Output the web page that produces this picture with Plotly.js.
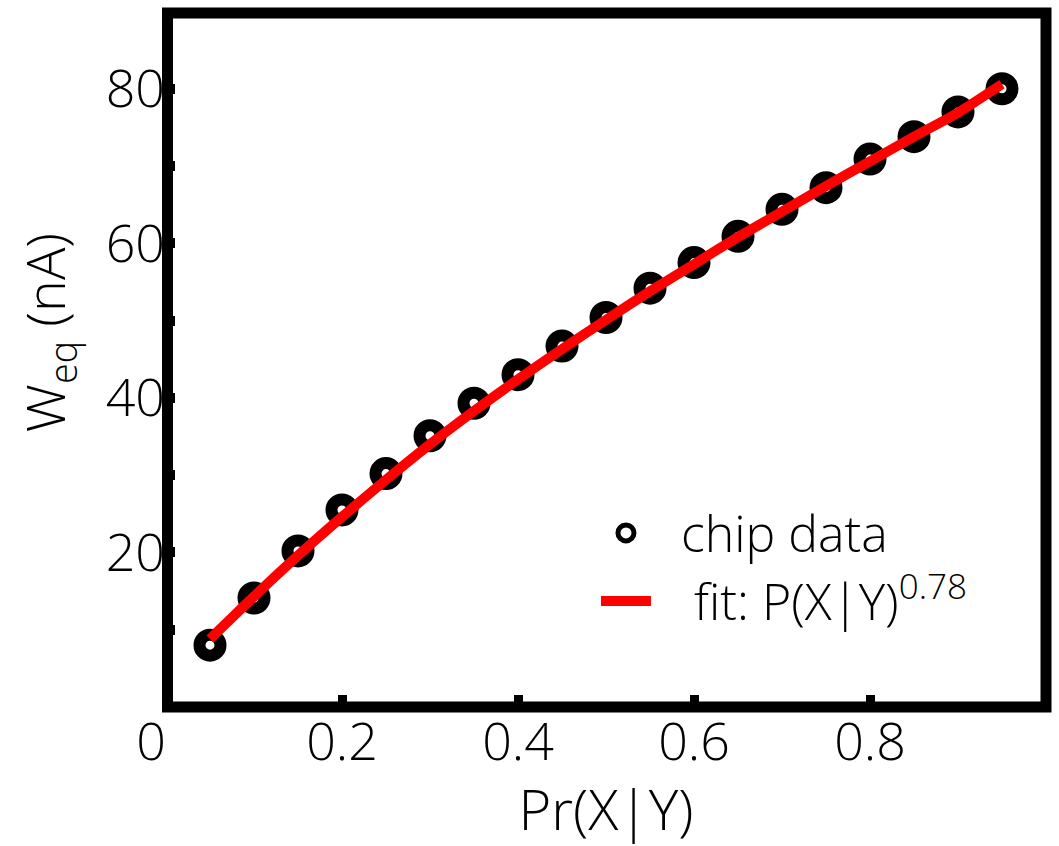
<!DOCTYPE html>
<html>
<head>
<meta charset="utf-8">
<script src="https://cdn.plot.ly/plotly-3.0.1.min.js"></script>
<style>html,body{margin:0;padding:0;background:#fff;}#chart{width:1059px;height:846px;}</style>
</head>
<body>
<div id="chart"></div>
<script>
// Pr(X|Y) sample positions
const prXY = [0.05, 0.10, 0.15, 0.20, 0.25, 0.30, 0.35, 0.40, 0.45, 0.50,
              0.55, 0.60, 0.65, 0.70, 0.75, 0.80, 0.85, 0.90, 0.95];
// chip data W_eq (nA)
const chipData = [8.0, 14.1, 20.2, 25.5, 30.2, 35.1, 39.3, 43.0, 46.7, 50.4,
                  54.2, 57.5, 60.9, 64.4, 67.2, 70.9, 73.8, 77.0, 80.0];
// fit curve
const fitData = [8.8, 14.3, 19.6, 24.6, 29.4, 34.0, 38.3, 42.4, 46.3, 50.1,
                 53.8, 57.3, 60.8, 64.1, 67.4, 70.6, 73.8, 76.9, 80.6];
const xTickVals = [0, 0.2, 0.4, 0.6, 0.8, 1];
const xTickText = ['0\u2007', '0.2', '0.4', '0.6', '0.8', '1'];
const yTickVals = [20, 40, 60, 80];
const yTickText = ['20', '40', '60', '80'];
const seriesNames = ['\u2002chip data', '\u2002 fit: P(X|Y)<sup>0.78</sup>'];
const xTitle = 'Pr(X|Y)';
const yTitle = 'W<sub>eq</sub> (nA)';

const FONT = 'Open Sans, Noto Sans, DejaVu Sans, sans-serif';

const traces = [
  {
    x: prXY, y: chipData, type: 'scatter', mode: 'markers', name: seriesNames[0],
    marker: {symbol: 'circle-open', size: 21, color: 'black', line: {width: 12, color: 'black'}}
  },
  {
    x: prXY, y: fitData, type: 'scatter', mode: 'lines', name: seriesNames[1],
    line: {color: '#ff0000', width: 10, shape: 'spline', smoothing: 0.6}
  }
];

const layout = {
  width: 1059, height: 846,
  margin: {l: 166, r: 13, t: 13, b: 139},
  paper_bgcolor: 'white', plot_bgcolor: 'white',
  font: {family: FONT, color: 'black', weight: 300},
  showlegend: true,
  legend: {
    x: 0.4886, y: 0.307, xanchor: 'left', yanchor: 'top',
    bgcolor: 'rgba(0,0,0,0)', borderwidth: 0,
    font: {family: FONT, size: 50, color: 'black', weight: 300},
    itemwidth: 50, tracegroupgap: 0
  },
  xaxis: {
    range: [0, 1], tickvals: xTickVals, ticktext: xTickText,
    ticks: 'inside', ticklen: 12, tickwidth: 9, tickcolor: 'black',
    showgrid: false, zeroline: false, showline: false,
    tickfont: {family: FONT, size: 52, color: 'black', weight: 300},
    title: {text: xTitle, font: {family: FONT, size: 56, color: 'black', weight: 300}, standoff: 8}
  },
  yaxis: {
    range: [0, 89.8], tickvals: yTickVals, ticktext: yTickText,
    ticks: 'inside', ticklen: 9, tickwidth: 10, tickcolor: 'black',
    minor: {ticks: 'inside', ticklen: 9, tickwidth: 10, tickcolor: 'black', dtick: 10, tick0: 0, showgrid: false},
    showgrid: false, zeroline: false, showline: false,
    tickfont: {family: FONT, size: 52, color: 'black', weight: 300}
  },
  annotations: [{
    text: yTitle, xref: 'paper', yref: 'paper', x: -0.135, y: 0.539,
    xanchor: 'center', yanchor: 'middle', textangle: -90, showarrow: false,
    font: {family: FONT, size: 54, color: 'black', weight: 300}
  }],
  shapes: [{
    type: 'rect', xref: 'paper', yref: 'paper', x0: 0.0017, x1: 1.0, y0: 0, y1: 1,
    line: {color: 'black', width: 11}, fillcolor: 'rgba(0,0,0,0)', layer: 'above'
  }]
};

Plotly.newPlot('chart', traces, layout, {displayModeBar: false, staticPlot: true});
</script>
</body>
</html>
